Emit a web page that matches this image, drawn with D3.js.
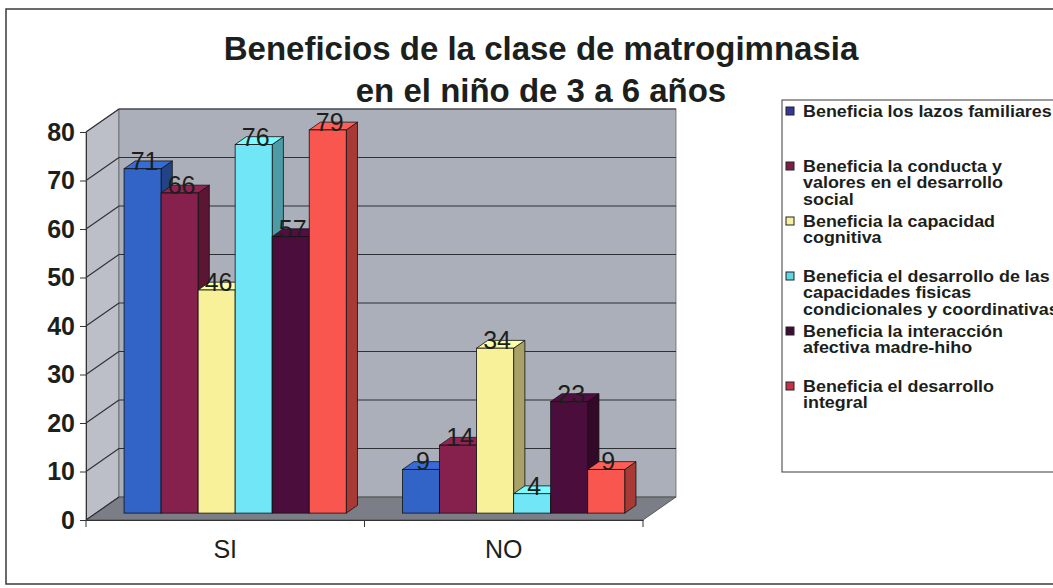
<!DOCTYPE html>
<html>
<head>
<meta charset="utf-8">
<script src="https://cdn.jsdelivr.net/npm/d3@7"></script>
<style>
  body { margin: 0; background: #fff; }
  svg text { font-family: "Liberation Sans", Arial, sans-serif; fill: #1c1f1c; }
</style>
</head>
<body>
<svg id="chart" width="1053" height="588"></svg>
<script>
"use strict";

// Data
const categories = ["SI", "NO"];
const seriesNames = [
  "Beneficia los lazos familiares",
  "Beneficia la conducta y\nvalores en el desarrollo\nsocial",
  "Beneficia la capacidad\ncognitiva",
  "Beneficia el desarrollo de las\ncapacidades fisicas\ncondicionales y coordinativas",
  "Beneficia la interacción\nafectiva madre-hiho",
  "Beneficia el desarrollo\nintegral"
];
const valuesSI = [71, 66, 46, 76, 57, 79];
const valuesNO = [9, 14, 34, 4, 23, 9];
const yTicks = [0, 10, 20, 30, 40, 50, 60, 70, 80];
const titleLines = ["Beneficios de la clase de matrogimnasia", "en el niño de 3 a 6 años"];

const seriesColors = ["#3263c6", "#86214d", "#f9f09a", "#70e6f6", "#4b0d3c", "#f95650"];
const legendColors = ["#34389a", "#7a2048", "#f6f19c", "#5fd6e6", "#3e0c34", "#c8304a"];

const table = categories.map((c, i) => ({
  cat: c,
  vals: i === 0 ? valuesSI : valuesNO
}));

// Layout
var graph = {};
graph.svg = d3.select("#chart");

var plot = {
  left: 86,
  right: 643,
  top: 132,
  bottom: 520,
  dx: 33, // depth offset of the back wall
  dy: 23
};
// bars sit in the middle of the depth
var f0 = 0.3, f1 = 0.64;

var x0 = d3.scaleBand()
  .domain(categories)
  .range([plot.left, plot.right])
  .padding(0);

var x1 = d3.scaleBand()
  .domain(d3.range(seriesNames.length))
  .range([0, x0.bandwidth()])
  .paddingInner(0)
  .paddingOuter(0.76);

var y = d3.scaleLinear()
  .domain([0, 80])
  .range([plot.bottom, plot.top]);

// outer chart border
graph.svg.append("rect")
  .attr("x", 6)
  .attr("y", 9)
  .attr("width", 1120)
  .attr("height", 575)
  .attr("fill", "#fff")
  .attr("stroke", "#3a3a3a")
  .attr("stroke-width", 1.5);

// Title
graph.svg.append("g")
  .selectAll("text")
  .data(titleLines)
  .enter()
  .append("text")
  .attr("x", 541)
  .attr("y", (d, i) => 60 + i * 42)
  .attr("text-anchor", "middle")
  .style("font-size", "33px")
  .style("font-weight", "bold")
  .text(d => d);

// Walls
var walls = graph.svg.append("g").attr("class", "walls");
var yTop = y(80), y0 = y(0);

walls.append("polygon")
  .attr("points", [
    [plot.left, yTop], [plot.left + plot.dx, yTop - plot.dy],
    [plot.left + plot.dx, y0 - plot.dy], [plot.left, y0]
  ].join(" "))
  .attr("fill", "#bcbfc8")
  .attr("stroke", "#555")
  .attr("stroke-width", 0.8);

walls.append("rect")
  .attr("x", plot.left + plot.dx)
  .attr("y", yTop - plot.dy)
  .attr("width", plot.right - plot.left)
  .attr("height", y0 - yTop)
  .attr("fill", "#abafba")
  .attr("stroke", "#666")
  .attr("stroke-width", 0.8);

walls.append("polygon")
  .attr("points", [
    [plot.left, y0], [plot.right, y0],
    [plot.right + plot.dx, y0 - plot.dy], [plot.left + plot.dx, y0 - plot.dy]
  ].join(" "))
  .attr("fill", "#7b7e86")
  .attr("stroke", "#444")
  .attr("stroke-width", 0.8);

// gridlines on back wall and left wall
walls.selectAll("line.grid")
  .data(yTicks.filter(t => t > 0))
  .enter()
  .append("line")
  .attr("class", "grid")
  .attr("x1", plot.left + plot.dx)
  .attr("x2", plot.right + plot.dx)
  .attr("y1", d => y(d) - plot.dy)
  .attr("y2", d => y(d) - plot.dy)
  .attr("stroke", "#2e3036")
  .attr("stroke-width", 1.1);

walls.selectAll("line.diag")
  .data(yTicks)
  .enter()
  .append("line")
  .attr("class", "diag")
  .attr("x1", plot.left)
  .attr("x2", plot.left + plot.dx)
  .attr("y1", d => y(d))
  .attr("y2", d => y(d) - plot.dy)
  .attr("stroke", "#2e3036")
  .attr("stroke-width", 1.1);

// Axes
var yAxis = d3.axisLeft(y)
  .tickValues(yTicks)
  .tickSize(6)
  .tickSizeOuter(0)
  .tickPadding(5);

var gY = graph.svg.append("g")
  .attr("class", "axis axis--y")
  .attr("transform", "translate(" + plot.left + ",0)")
  .call(yAxis);
gY.select(".domain").attr("stroke", "#333");
gY.selectAll(".tick line").attr("stroke", "#333");
gY.selectAll(".tick text")
  .style("font-size", "25px")
  .style("font-weight", "bold")
  .attr("fill", "#1c1f1c");

var xAxis = d3.axisBottom(x0)
  .tickSize(0)
  .tickPadding(20);

var gX = graph.svg.append("g")
  .attr("class", "axis axis--x")
  .attr("transform", "translate(0," + plot.bottom + ")")
  .call(xAxis);
gX.select(".domain").attr("stroke", "#333");
gX.selectAll(".tick text")
  .style("font-size", "25px")
  .attr("fill", "#1c1f1c");

// category separators below the floor
gX.selectAll("line.sep")
  .data(categories.map(c => x0(c)).concat([plot.right]))
  .enter()
  .append("line")
  .attr("class", "sep")
  .attr("x1", d => d)
  .attr("x2", d => d)
  .attr("y1", 0)
  .attr("y2", 7)
  .attr("stroke", "#333");

// Bars
var bars = graph.svg.append("g").attr("class", "bars");
var ddx = (f1 - f0) * plot.dx,
  ddy = (f1 - f0) * plot.dy;

function barGeom(cat, si, v) {
  let xf = x0(cat) + x1(si) + f0 * plot.dx,
    w = x1.bandwidth(),
    base = y(0) - f0 * plot.dy,
    top = y(v) - f0 * plot.dy;
  return { xf: xf, w: w, base: base, top: top };
}

table.forEach(function(row) {
  row.vals.forEach(function(v, si) {
    let g = barGeom(row.cat, si, v),
      col = d3.color(seriesColors[si]);
    let bar = bars.append("g");

    bar.append("polygon")
      .attr("points", [
        [g.xf + g.w, g.top], [g.xf + g.w + ddx, g.top - ddy],
        [g.xf + g.w + ddx, g.base - ddy], [g.xf + g.w, g.base]
      ].join(" "))
      .attr("fill", col.darker(1.1))
      .attr("stroke", "#111")
      .attr("stroke-width", 0.8);

    bar.append("polygon")
      .attr("points", [
        [g.xf, g.top], [g.xf + g.w, g.top],
        [g.xf + g.w + ddx, g.top - ddy], [g.xf + ddx, g.top - ddy]
      ].join(" "))
      .attr("fill", col.brighter(0.25))
      .attr("stroke", "#111")
      .attr("stroke-width", 0.8);

    bar.append("rect")
      .attr("x", g.xf)
      .attr("y", g.top)
      .attr("width", g.w)
      .attr("height", g.base - g.top)
      .attr("fill", col)
      .attr("stroke", "#111")
      .attr("stroke-width", 0.8);
  });
});

// value labels
var labels = graph.svg.append("g").attr("class", "labels");
table.forEach(function(row) {
  row.vals.forEach(function(v, si) {
    let g = barGeom(row.cat, si, v);
    labels.append("text")
      .attr("x", g.xf + g.w / 2 + 2)
      .attr("y", g.top + 1)
      .attr("text-anchor", "middle")
      .style("font-size", "25px")
      .attr("fill", "#161616")
      .text(v);
  });
});

// Legend
var legend = {x: 782, y: 100, w: 320, h: 372, first: 111, step: 55, lh: 16.5, sx: 1.12};
var lg = graph.svg.append("g").attr("class", "legend");

lg.append("rect")
  .attr("x", legend.x)
  .attr("y", legend.y)
  .attr("width", legend.w)
  .attr("height", legend.h)
  .attr("fill", "#fff")
  .attr("stroke", "#3a3a3a")
  .attr("stroke-width", 1);

var items = lg.selectAll("g.item")
  .data(seriesNames)
  .enter()
  .append("g")
  .attr("class", "item")
  .attr("transform", (d, i) => "translate(" + legend.x + "," + (legend.first + i * legend.step) + ")");

items.append("rect")
  .attr("x", 4)
  .attr("y", -4)
  .attr("width", 8)
  .attr("height", 8)
  .attr("fill", (d, i) => legendColors[i])
  .attr("stroke", "#222")
  .attr("stroke-width", 1);

// the legend font is wide and short, so stretch it a little
items.append("g")
  .attr("transform", "translate(21,6) scale(" + legend.sx + ",1)")
  .append("text")
  .style("font-size", "16px")
  .style("font-weight", "bold")
  .selectAll("tspan")
  .data(d => d.split("\n"))
  .enter()
  .append("tspan")
  .attr("x", 0)
  .attr("dy", (d, i) => i === 0 ? 0 : legend.lh)
  .text(d => d);
</script>
</body>
</html>
